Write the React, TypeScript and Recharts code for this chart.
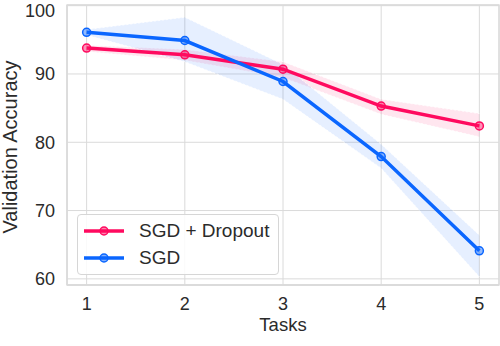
import {
  Area,
  CartesianGrid,
  ComposedChart,
  Label,
  Legend,
  Line,
  ReferenceArea,
  XAxis,
  YAxis,
} from "recharts";

const tasks = [1, 2, 3, 4, 5];
const dropoutMean = [93.8, 92.8, 90.7, 85.3, 82.4];
const dropoutLow = [93.3, 92.0, 89.5, 84.1, 80.8];
const dropoutHigh = [94.2, 93.6, 91.8, 86.3, 84.2];
const sgdMean = [96.1, 94.9, 88.9, 77.9, 64.1];
const sgdLow = [95.7, 91.8, 86.3, 76.2, 60.3];
const sgdHigh = [96.5, 98.3, 91.4, 79.7, 66.4];

const xTicks = [1, 2, 3, 4, 5];
const yTicks = [60, 70, 80, 90, 100];

const PINK = "#ff0a5f";
const BLUE = "#0a66ff";
const GRID = "#dadada";
const TEXT = "#2b2b2b";
const FONT = '"Liberation Sans", Arial, sans-serif';

const data = tasks.map((t, i) => ({
  t,
  dropout: dropoutMean[i],
  dropoutBand: [dropoutLow[i], dropoutHigh[i]],
  sgd: sgdMean[i],
  sgdBand: [sgdLow[i], sgdHigh[i]],
}));

const series = [
  { name: "SGD + Dropout", color: PINK },
  { name: "SGD", color: BLUE },
];

function LegendBox() {
  return (
    <div
      style={{
        width: 202,
        height: 61,
        border: "1px solid #d6d6d6",
        borderRadius: 4,
        background: "rgba(255,255,255,0.85)",
        boxSizing: "border-box",
        padding: "2px 0 0 5px",
        fontFamily: FONT,
        fontSize: 19,
        color: TEXT,
      }}
    >
      {series.map((s) => (
        <div
          key={s.name}
          style={{ display: "flex", alignItems: "center", height: 27.5 }}
        >
          <svg width={42} height={12} style={{ marginRight: 14 }}>
            <line x1={1} y1={6} x2={41} y2={6} stroke={s.color} strokeWidth={3.5} />
            <circle
              cx={21}
              cy={6}
              r={4}
              fill={s.color}
              fillOpacity={0.5}
              stroke={s.color}
              strokeWidth={1.5}
            />
          </svg>
          <span>{s.name}</span>
        </div>
      ))}
    </div>
  );
}

const dot = (color: string) => ({
  r: 4,
  fill: color,
  fillOpacity: 0.45,
  stroke: color,
  strokeWidth: 1.5,
});

export default function App() {
  return (
    <div
      style={{
        position: "absolute",
        left: 0,
        top: 0,
        width: 500,
        height: 346,
        background: "#fff",
      }}
    >
      <ComposedChart
        width={500}
        height={346}
        data={data}
        margin={{ top: 5, right: 1, bottom: 0, left: 0 }}
        style={{ fontFamily: FONT }}
      >
        <CartesianGrid stroke={GRID} strokeWidth={1} />
        <XAxis
          dataKey="t"
          type="number"
          domain={[0.8, 5.2]}
          ticks={xTicks}
          height={61}
          tickSize={0}
          tickMargin={12}
          axisLine={{ stroke: GRID, strokeWidth: 1.3 }}
          tick={{ fill: TEXT, fontSize: 18 }}
        >
          <Label
            content={({ viewBox }: any) => (
              <text
                x={viewBox.x + viewBox.width / 2}
                y={viewBox.y + 46}
                textAnchor="middle"
                fill={TEXT}
                fontSize={18.5}
                fontFamily={FONT}
              >
                Tasks
              </text>
            )}
          />
        </XAxis>
        <YAxis
          type="number"
          domain={[59.1, 100.1]}
          ticks={yTicks}
          width={67}
          tickSize={0}
          tickMargin={12}
          axisLine={{ stroke: GRID, strokeWidth: 1.3 }}
          tick={{ fill: TEXT, fontSize: 18 }}
          allowDataOverflow
        >
          <Label
            content={({ viewBox }: any) => {
              const cy = viewBox.y + viewBox.height / 2 + 2;
              return (
                <text
                  x={17}
                  y={cy}
                  transform={`rotate(-90 17 ${cy})`}
                  textAnchor="middle"
                  fill={TEXT}
                  fontSize={20}
                  fontFamily={FONT}
                >
                  Validation Accuracy
                </text>
              );
            }}
          />
        </YAxis>
        <ReferenceArea
          x1={0.8}
          x2={5.2}
          y1={59.1}
          y2={100.1}
          fill="none"
          stroke={GRID}
          strokeWidth={1.3}
          ifOverflow="visible"
        />
        <Area
          dataKey="dropoutBand"
          type="linear"
          fill={PINK}
          fillOpacity={0.1}
          stroke="#fff"
          strokeDasharray="2 2"
          strokeWidth={0.8}
          isAnimationActive={false}
          legendType="none"
          activeDot={false}
        />
        <Area
          dataKey="sgdBand"
          type="linear"
          fill={BLUE}
          fillOpacity={0.1}
          stroke="#fff"
          strokeDasharray="2 2"
          strokeWidth={0.8}
          isAnimationActive={false}
          legendType="none"
          activeDot={false}
        />
        <Line
          dataKey="dropout"
          type="linear"
          stroke={PINK}
          strokeWidth={3.5}
          dot={dot(PINK)}
          isAnimationActive={false}
        />
        <Line
          dataKey="sgd"
          type="linear"
          stroke={BLUE}
          strokeWidth={3.5}
          dot={dot(BLUE)}
          isAnimationActive={false}
        />
        <Legend
          layout="vertical"
          align="center"
          verticalAlign="middle"
          wrapperStyle={{ left: 77, top: 214, width: 202 }}
          content={() => <LegendBox />}
        />
      </ComposedChart>
    </div>
  );
}
